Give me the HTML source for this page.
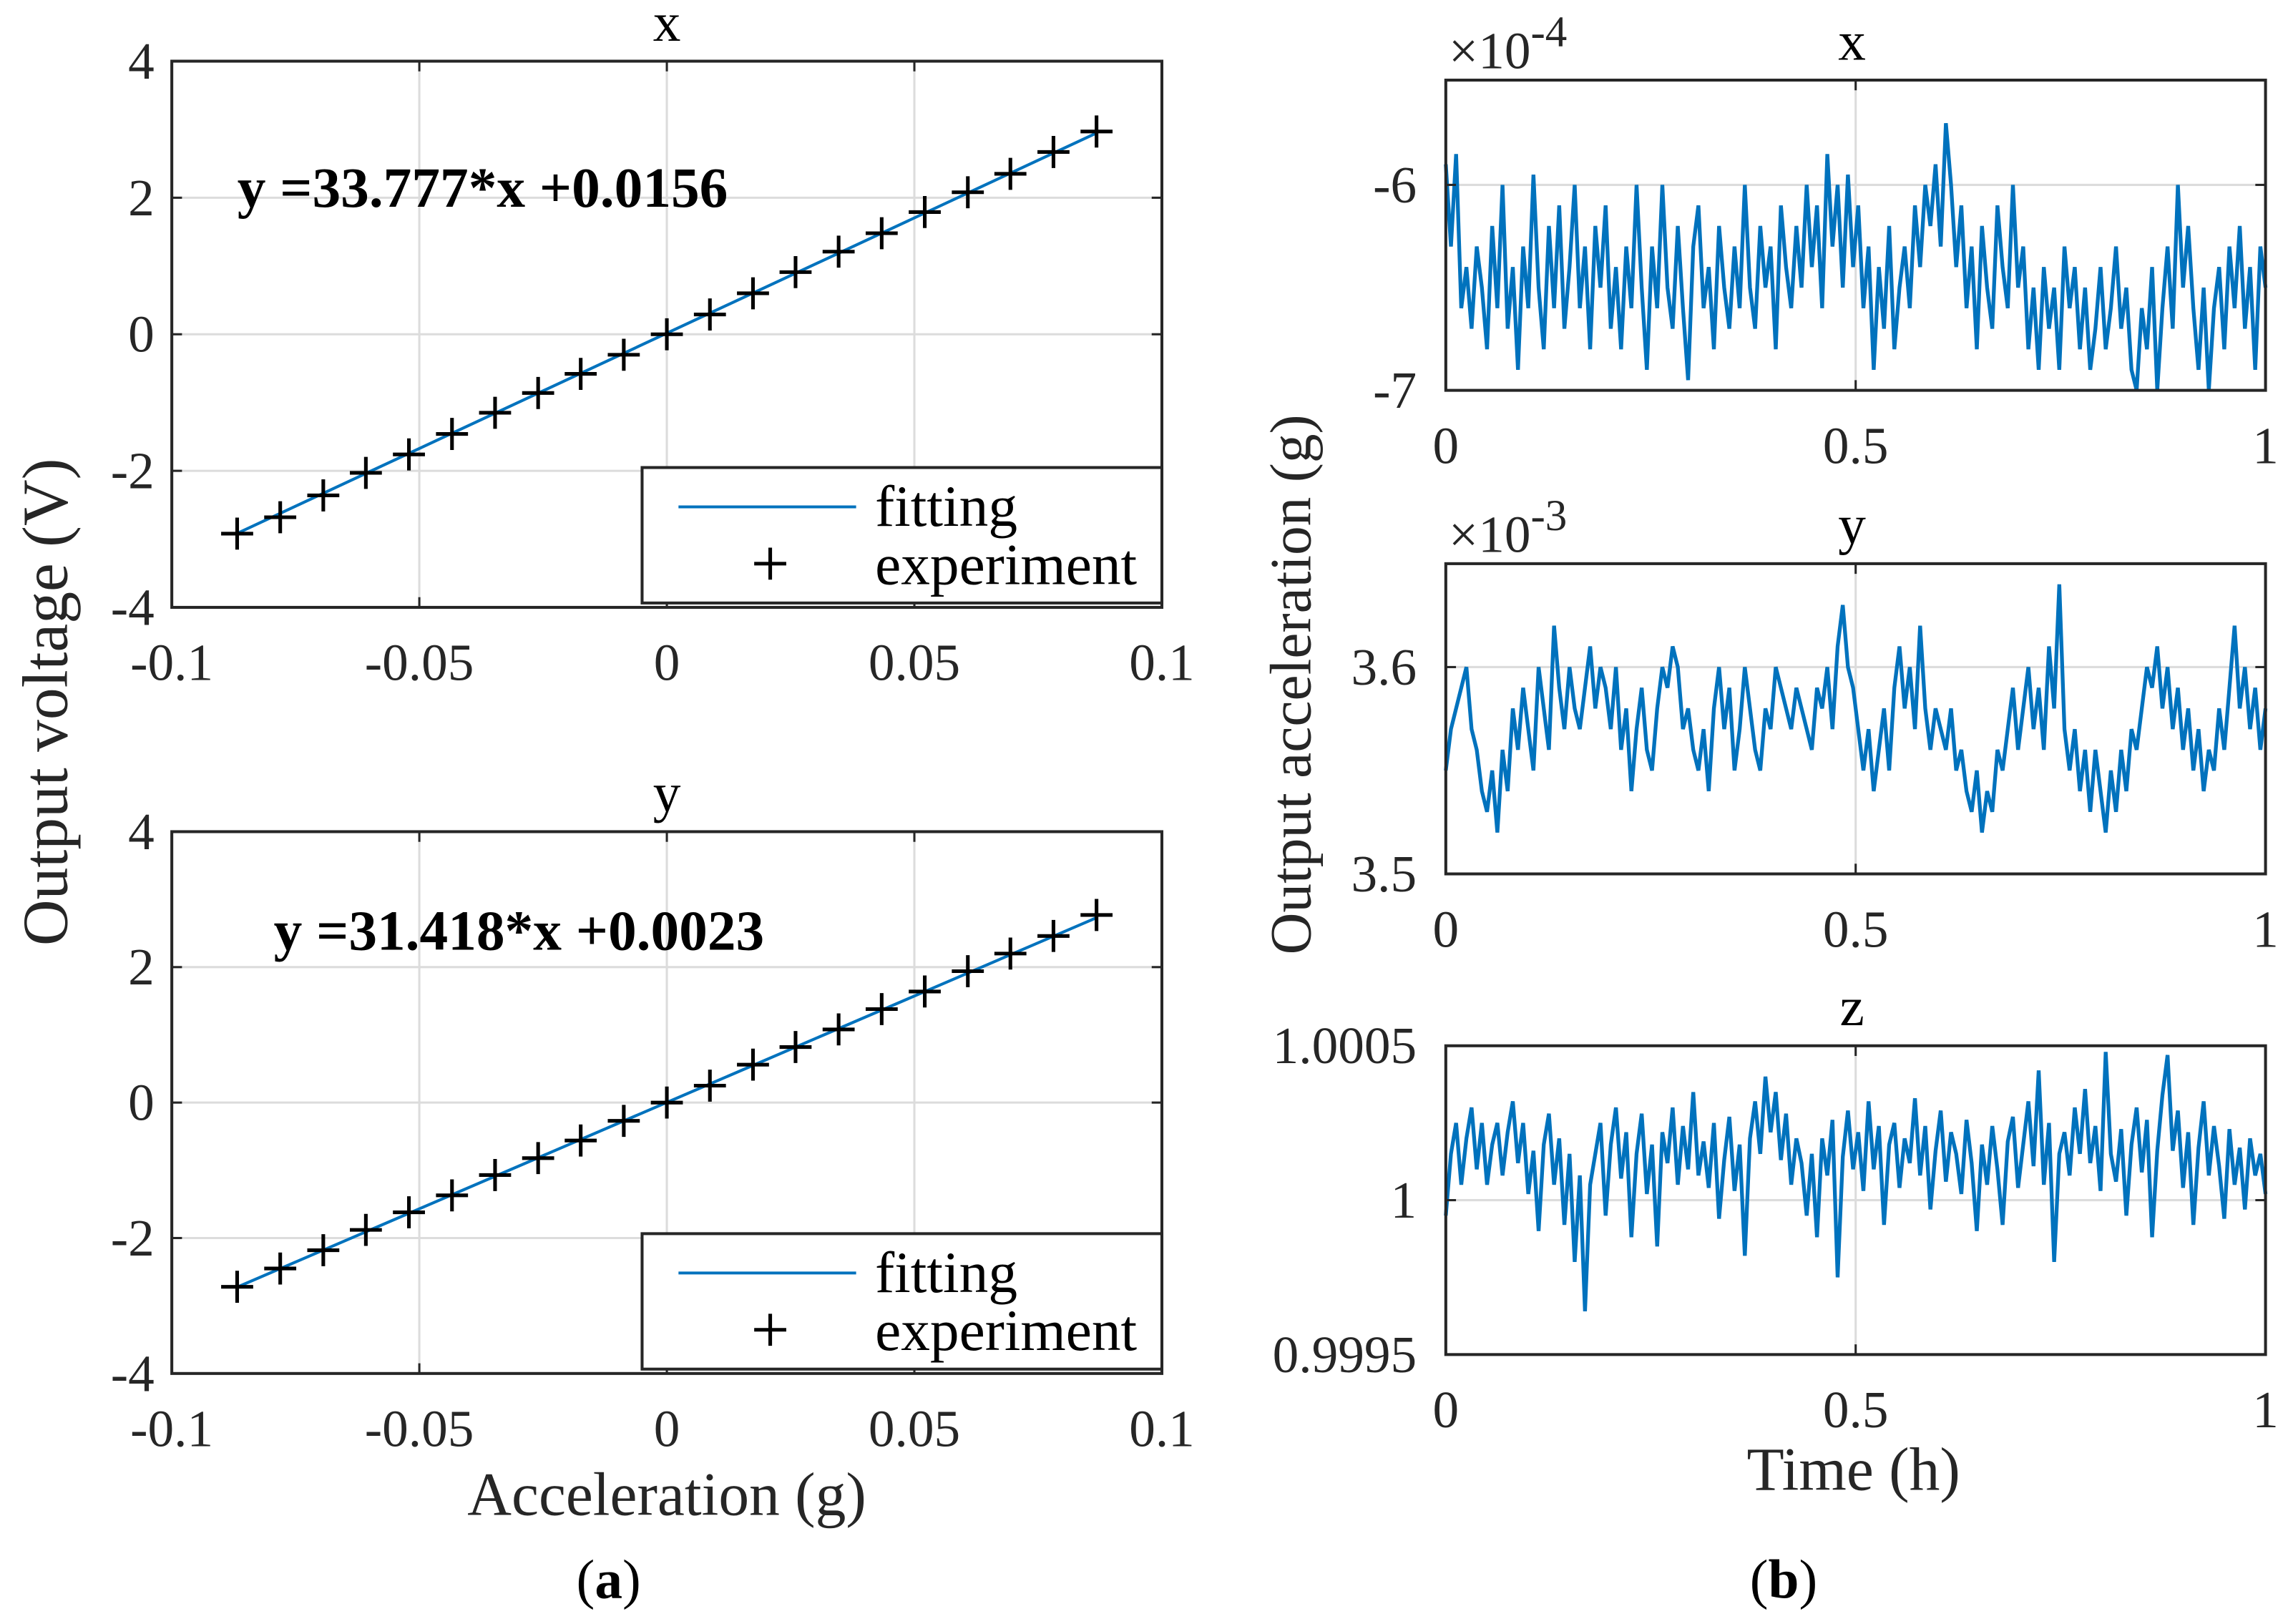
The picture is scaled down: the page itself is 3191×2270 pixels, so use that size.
<!DOCTYPE html>
<html><head><meta charset="utf-8"><style>
html,body{margin:0;padding:0;background:#fff;}
svg{display:block;font-family:"Liberation Serif",serif;}
</style></head><body>
<svg id="fig" width="3191" height="2270" viewBox="0 0 1568 1115" preserveAspectRatio="none" xmlns="http://www.w3.org/2000/svg"></svg>
<script>
const accelX = [-0.0868,-0.0781,-0.0694,-0.0608,-0.0521,-0.0434,-0.0347,-0.0260,-0.0174,-0.0087,0,0.0087,0.0174,0.0260,0.0347,0.0434,0.0521,0.0608,0.0694,0.0781,0.0868];
const voltX = [-2.92,-2.68,-2.36,-2.03,-1.76,-1.46,-1.15,-0.86,-0.58,-0.30,0.0,0.29,0.60,0.91,1.21,1.48,1.79,2.08,2.35,2.67,2.97];
const voltY = [-2.72,-2.45,-2.18,-1.88,-1.62,-1.37,-1.07,-0.82,-0.56,-0.27,0.0,0.25,0.56,0.82,1.08,1.38,1.64,1.94,2.20,2.46,2.77];
const fitSlope = [33.777, 31.418];
const fitIntercept = [0.0156, 0.0023];
const fitTicksX = ["-0.1","-0.05","0","0.05","0.1"];
const fitTicksY = ["-4","-2","0","2","4"];
const noiseX = [-5.9,-6.3,-5.85,-6.6,-6.4,-6.7,-6.3,-6.5,-6.8,-6.2,-6.6,-6.0,-6.7,-6.4,-6.9,-6.3,-6.6,-5.95,-6.5,-6.8,-6.2,-6.6,-6.1,-6.7,-6.4,-6.0,-6.6,-6.3,-6.8,-6.2,-6.5,-6.1,-6.7,-6.4,-6.8,-6.3,-6.6,-6.0,-6.5,-6.9,-6.3,-6.6,-6.0,-6.5,-6.7,-6.2,-6.6,-6.95,-6.3,-6.1,-6.6,-6.4,-6.8,-6.2,-6.5,-6.7,-6.3,-6.6,-6.0,-6.5,-6.7,-6.2,-6.5,-6.3,-6.8,-6.1,-6.4,-6.6,-6.2,-6.5,-6.0,-6.4,-6.1,-6.6,-5.85,-6.3,-6.0,-6.5,-5.95,-6.4,-6.1,-6.6,-6.3,-6.9,-6.4,-6.7,-6.2,-6.8,-6.5,-6.3,-6.6,-6.1,-6.4,-6.0,-6.2,-5.9,-6.3,-5.7,-6.0,-6.4,-6.1,-6.6,-6.3,-6.8,-6.2,-6.5,-6.7,-6.1,-6.4,-6.6,-6.0,-6.5,-6.3,-6.8,-6.5,-6.9,-6.4,-6.7,-6.5,-6.9,-6.3,-6.6,-6.4,-6.8,-6.5,-6.9,-6.7,-6.4,-6.8,-6.6,-6.3,-6.7,-6.5,-6.9,-7.0,-6.6,-6.8,-6.4,-7.0,-6.6,-6.3,-6.7,-6.0,-6.5,-6.2,-6.6,-6.9,-6.5,-7.0,-6.6,-6.4,-6.8,-6.3,-6.6,-6.2,-6.7,-6.4,-6.9,-6.3,-6.5];
const noiseY = [3.55,3.57,3.58,3.59,3.60,3.57,3.56,3.54,3.53,3.55,3.52,3.56,3.54,3.58,3.56,3.59,3.57,3.55,3.60,3.58,3.56,3.62,3.59,3.57,3.60,3.58,3.57,3.59,3.61,3.58,3.60,3.59,3.57,3.60,3.56,3.58,3.54,3.57,3.59,3.56,3.55,3.58,3.60,3.59,3.61,3.60,3.57,3.58,3.56,3.55,3.57,3.54,3.58,3.60,3.57,3.59,3.55,3.57,3.60,3.58,3.56,3.55,3.58,3.57,3.60,3.59,3.58,3.57,3.59,3.58,3.57,3.56,3.59,3.58,3.60,3.57,3.61,3.63,3.60,3.59,3.57,3.55,3.57,3.54,3.56,3.58,3.55,3.59,3.61,3.58,3.60,3.57,3.62,3.58,3.56,3.58,3.57,3.56,3.58,3.55,3.56,3.54,3.53,3.55,3.52,3.54,3.53,3.56,3.55,3.57,3.59,3.56,3.58,3.60,3.57,3.59,3.56,3.61,3.58,3.64,3.57,3.55,3.57,3.54,3.56,3.53,3.56,3.54,3.52,3.55,3.53,3.56,3.54,3.57,3.56,3.58,3.60,3.59,3.61,3.58,3.60,3.57,3.59,3.56,3.58,3.55,3.57,3.54,3.56,3.55,3.58,3.56,3.59,3.62,3.58,3.60,3.57,3.59,3.56,3.58];
const noiseZ = [-0.5,1.5,2.5,0.5,2,3,1,2.5,0.5,1.8,2.5,0.8,2.2,3.2,1.2,2.5,0.2,1.6,-1,1.8,2.8,0.5,2,-0.8,1.5,-2,0.8,-3.6,0.5,1.5,2.5,-0.5,1.8,3,0.7,2.2,-1.2,1.5,2.8,0.2,1.8,-1.5,2.2,1.2,3,0.5,2.4,1,3.5,0.8,1.9,0.4,2.5,-0.6,1.3,2.7,0.3,1.8,-1.8,2,3.2,1.5,4,2.2,3.5,1.3,2.8,0.5,2,1.2,-0.5,1.5,-1.2,2,0.8,2.6,-2.5,1.4,2.9,1,2.2,0.3,3.2,1,2.4,-0.8,1.8,2.5,0.4,2,1.2,3.3,0.8,2.4,-0.3,1.6,2.9,0.6,2.2,1.5,0.2,2.6,1.2,-1,1.8,0.5,2.4,1,-0.8,1.9,2.7,0.4,1.8,3.2,1.1,4.2,0.5,2.5,-2,1.5,2.2,0.8,3,1.5,3.6,1.2,2.4,0.3,4.8,1.5,0.6,2.3,-0.5,1.8,3,0.9,2.6,-1.2,1.6,3.4,4.7,1.6,2.9,0.4,2.2,-0.8,1.7,3.2,0.8,2.4,1.1,-0.6,2.3,0.5,1.7,-0.3,2,0.8,1.5,0.2];
const timeTicks = ["0","0.5","1"];

const NS="http://www.w3.org/2000/svg";
const svg=document.getElementById('fig');
const TICK=36;
function mk(tag,attrs,parent){const e=document.createElementNS(NS,tag);for(const k in attrs)e.setAttribute(k,attrs[k]);(parent||svg).appendChild(e);return e;}
function txt(s,x,y,size,anchor,parent,extra){const t=mk('text',Object.assign({x:x,y:y,'font-size':size,'text-anchor':anchor||'middle',fill:'#262626'},extra||{}),parent);t.textContent=s;return t;}

function fitPanel(name,top,bottom,title,volts,idx,eq,eqx,eqy){
  const g=mk('g',{});
  
  
  const L=118,R=798;
  const sx=v=>L+(v+0.1)/0.2*(R-L);
  const sy=v=>bottom-(v+4)/8*(bottom-top);
  [-0.05,0,0.05].forEach(v=>mk('line',{x1:sx(v),x2:sx(v),y1:top,y2:bottom,stroke:'#dcdcdc','stroke-width':1.5},g));
  [-2,0,2].forEach(v=>mk('line',{x1:L,x2:R,y1:sy(v),y2:sy(v),stroke:'#dcdcdc','stroke-width':1.5},g));
  const x0=accelX[0],x1=accelX[accelX.length-1];
  const fl=mk('line',{x1:sx(x0),y1:sy(fitSlope[idx]*x0+fitIntercept[idx]),x2:sx(x1),y2:sy(fitSlope[idx]*x1+fitIntercept[idx]),stroke:'#0072bd','stroke-width':2},g);
  
  
  accelX.forEach((a,i)=>{
    const cx=sx(a),cy=sy(volts[i]);
    const p=mk('path',{d:`M${cx-11},${cy}H${cx+11}M${cx},${cy-11}V${cy+11}`,stroke:'#000','stroke-width':2.5,fill:'none'},g);
    
    
  });
  fitTicksX.forEach(s=>{const v=parseFloat(s);const x=sx(v);
    mk('line',{x1:x,x2:x,y1:bottom,y2:bottom-7,stroke:'#262626','stroke-width':1.5},g);
    mk('line',{x1:x,x2:x,y1:top,y2:top+7,stroke:'#262626','stroke-width':1.5},g);
    txt(s,x,bottom+50,TICK,'middle',g);});
  fitTicksY.forEach(s=>{const v=parseFloat(s);const y=sy(v);
    mk('line',{x1:L,x2:L+7,y1:y,y2:y,stroke:'#262626','stroke-width':1.5},g);
    mk('line',{x1:R,x2:R-7,y1:y,y2:y,stroke:'#262626','stroke-width':1.5},g);
    txt(s,L-12,y+12,TICK,'end',g);});
  mk('rect',{x:L,y:top,width:R-L,height:bottom-top,fill:'none',stroke:'#262626','stroke-width':2},g);
  txt(title,458,top-14,38,'middle',g,{fill:'#000'});
  const e=txt(eq,eqx,eqy,39,'start',g,{'font-weight':'bold',fill:'#000'});
  
  
  const lg=mk('g',{},g);
  
  
  const ly=bottom-96;
  mk('rect',{x:441,y:ly,width:357,height:93,fill:'#fff',stroke:'#262626','stroke-width':2},lg);
  mk('line',{x1:466,x2:588,y1:ly+27,y2:ly+27,stroke:'#0072bd','stroke-width':2},lg);
  txt('fitting',601,ly+40,40,'start',lg,{fill:'#000'});
  mk('path',{d:`M${529-11},${ly+66}H${529+11}M529,${ly+55}V${ly+77}`,stroke:'#000','stroke-width':2.5},lg);
  txt('experiment',601,ly+80,40,'start',lg,{fill:'#000'});
}
fitPanel('fit-plot-x',42,417,'x',voltX,0,'y =33.777*x +0.0156',163,142);
fitPanel('fit-plot-y',571,943,'y',voltY,1,'y =31.418*x +0.0023',188,652);

function noisePanel(name,top,bottom,title,vals,ymin,ymax,yticks,exp){
  const g=mk('g',{});
  
  
  const L=993,R=1556;
  const sx=t=>L+t*(R-L);
  const sy=v=>bottom-(v-ymin)/(ymax-ymin)*(bottom-top);
  mk('line',{x1:sx(0.5),x2:sx(0.5),y1:top,y2:bottom,stroke:'#dcdcdc','stroke-width':1.5},g);
  yticks.forEach(t=>mk('line',{x1:L,x2:R,y1:sy(t.v),y2:sy(t.v),stroke:'#dcdcdc','stroke-width':1.5},g));
  const n=vals.length;
  const pts=vals.map((v,i)=>`${sx(i/(n-1)).toFixed(2)},${sy(Math.max(ymin,Math.min(ymax,v))).toFixed(2)}`).join(' ');
  const pl=mk('polyline',{points:pts,fill:'none',stroke:'#0072bd','stroke-width':2.6,'stroke-linejoin':'miter'},g);
  
  
  timeTicks.forEach(s=>{const x=sx(parseFloat(s));
    mk('line',{x1:x,x2:x,y1:bottom,y2:bottom-7,stroke:'#262626','stroke-width':1.5},g);
    mk('line',{x1:x,x2:x,y1:top,y2:top+7,stroke:'#262626','stroke-width':1.5},g);
    txt(s,x,bottom+50,TICK,'middle',g);});
  yticks.forEach(t=>{const y=sy(t.v);
    mk('line',{x1:L,x2:L+7,y1:y,y2:y,stroke:'#262626','stroke-width':1.5},g);
    mk('line',{x1:R,x2:R-7,y1:y,y2:y,stroke:'#262626','stroke-width':1.5},g);
    txt(t.s,L-20,y+12,TICK,'end',g);});
  mk('rect',{x:L,y:top,width:R-L,height:bottom-top,fill:'none',stroke:'#262626','stroke-width':2},g);
  txt(title,1272,top-14,38,'middle',g,{fill:'#000'});
  if(exp){const t=txt('',995,top-8,36,'start',g);
    t.innerHTML='×10<tspan dy="-15" font-size="30">'+exp+'</tspan>';}
}
noisePanel('noise-plot-x',55,268,'x',noiseX,-7,-5.49,[{v:-6,s:'-6'},{v:-7,s:'-7'}],'-4');
noisePanel('noise-plot-y',387,600,'y',noiseY,3.5,3.65,[{v:3.6,s:'3.6'},{v:3.5,s:'3.5'}],'-3');
noisePanel('noise-plot-z',718,930,'z',noiseZ,-5,5,[{v:5,s:'1.0005'},{v:0,s:'1'},{v:-5,s:'0.9995'}],null);

let t;
t=txt('Acceleration (g)',458,1040,42,'middle');

t=txt('Time (h)',1273,1023,42,'middle');

t=txt('Output voltage (V)',0,0,44,'middle',null,{transform:'translate(46,482) rotate(-90)'});

t=txt('Output acceleration (g)',0,0,40,'middle',null,{transform:'translate(900,470) rotate(-90)'});

t=txt('',418,1097,38,'middle',null,{fill:'#000'});t.innerHTML='(<tspan font-weight="bold">a</tspan>)';

t=txt('',1225,1097,38,'middle',null,{fill:'#000'});t.innerHTML='(<tspan font-weight="bold">b</tspan>)';

</script>
</body></html>
